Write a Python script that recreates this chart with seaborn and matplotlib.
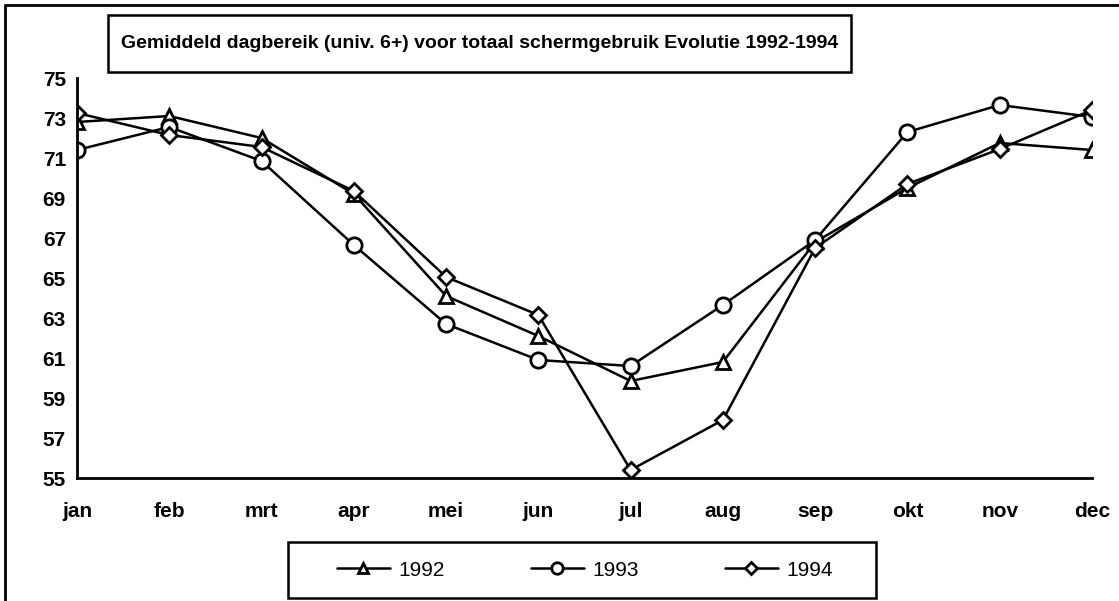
import matplotlib
matplotlib.use("Agg")
import matplotlib.pyplot as plt
import seaborn as sns
import pandas as pd
from matplotlib.patches import Rectangle
from matplotlib.lines import Line2D

months = ["jan", "feb", "mrt", "apr", "mei", "jun", "jul", "aug", "sep", "okt", "nov", "dec"]
y1992 = [72.8, 73.1, 72.0, 69.2, 64.1, 62.1, 59.85, 60.8, 66.8, 69.5, 71.75, 71.4]
y1993 = [71.4, 72.55, 70.85, 66.65, 62.7, 60.9, 60.6, 63.65, 66.9, 72.3, 73.65, 73.05]
y1994 = [73.25, 72.15, 71.55, 69.35, 65.05, 63.15, 55.4, 57.9, 66.5, 69.7, 71.45, 73.4]
years = ["1992", "1993", "1994"]
yticks = [55, 57, 59, 61, 63, 65, 67, 69, 71, 73, 75]
title = "Gemiddeld dagbereik (univ. 6+) voor totaal schermgebruik Evolutie 1992-1994"

sns.set_theme(style="white")
plt.rcParams["font.family"] = ["Liberation Sans", "DejaVu Sans"]
plt.rcParams["text.color"] = "black"

W, H = 1119, 601
fig = plt.figure(figsize=(W / 100, H / 100), dpi=100)
ax = fig.add_axes([77 / W, 1 - 478 / H, (1092 - 77) / W, (478 - 78) / H])

rows = []
for yr, vals in zip(years, [y1992, y1993, y1994]):
    for i, v in enumerate(vals):
        rows.append({"year": yr, "pos": i, "value": v})
df = pd.DataFrame(rows)

markers = {"1992": "^", "1993": "o", "1994": "D"}
msizes = {"1992": 10, "1993": 11, "1994": 8}
handles = []
for yr in years:
    sub = df[df["year"] == yr]
    sns.lineplot(data=sub, x="pos", y="value", ax=ax, color="black", lw=1.8,
                 marker=markers[yr], markersize=msizes[yr], markerfacecolor="white",
                 markeredgecolor="black", markeredgewidth=2, legend=False)
    handles.append(Line2D([], [], color="black", lw=1.8, marker=markers[yr],
                          markersize=msizes[yr] * 0.75, markerfacecolor="white",
                          markeredgecolor="black", markeredgewidth=2))

ax.set_xlim(0, 11)
ax.set_ylim(55, 75)
ax.set_xticks(range(12))
ax.set_xticklabels(months)
ax.set_yticks(yticks)
ax.set_yticklabels([str(t) for t in yticks])
ax.set_xlabel("")
ax.set_ylabel("")
for s in ["top", "right"]:
    ax.spines[s].set_visible(False)
for s in ["left", "bottom"]:
    ax.spines[s].set_color("black")
    ax.spines[s].set_linewidth(2)
ax.tick_params(axis="both", direction="inout", length=10, width=1.5, color="black",
               labelsize=15, labelcolor="black")
ax.tick_params(axis="x", pad=12)
ax.tick_params(axis="y", pad=3)
for lab in ax.get_xticklabels() + ax.get_yticklabels():
    lab.set_fontweight("bold")
ax.patch.set_alpha(0)

# outer frame lines (left and top)
fig.add_artist(Line2D([5 / W, 5 / W], [0, 1 - 5 / H], color="black", lw=2, transform=fig.transFigure))
fig.add_artist(Line2D([5 / W, 1], [1 - 5 / H, 1 - 5 / H], color="black", lw=2, transform=fig.transFigure))

# title box
fig.add_artist(Rectangle((108 / W, 1 - 72 / H), (851 - 108) / W, (72 - 15) / H,
                         transform=fig.transFigure, fill=True, facecolor="white",
                         edgecolor="black", lw=1.8, zorder=5))
fig.text((108 + 851) / 2 / W, 1 - 43 / H, title, ha="center", va="center",
         fontsize=14, fontweight="bold", color="black", zorder=6)

# legend box
fig.add_artist(Rectangle((288 / W, 1 - 598 / H), (876 - 288) / W, (598 - 542) / H,
                         transform=fig.transFigure, fill=True, facecolor="white",
                         edgecolor="black", lw=1.8, zorder=1))
leg = fig.legend(handles, years, loc="center", bbox_to_anchor=(585 / W, 1 - 570 / H),
                 ncol=3, frameon=False, fontsize=15, handlelength=2.55,
                 columnspacing=4.1, handletextpad=0.43, borderpad=0.5,
                 borderaxespad=0)
leg.set_zorder(6)
for t in leg.get_texts():
    t.set_color("black")

fig.savefig("out.png", dpi=100)
